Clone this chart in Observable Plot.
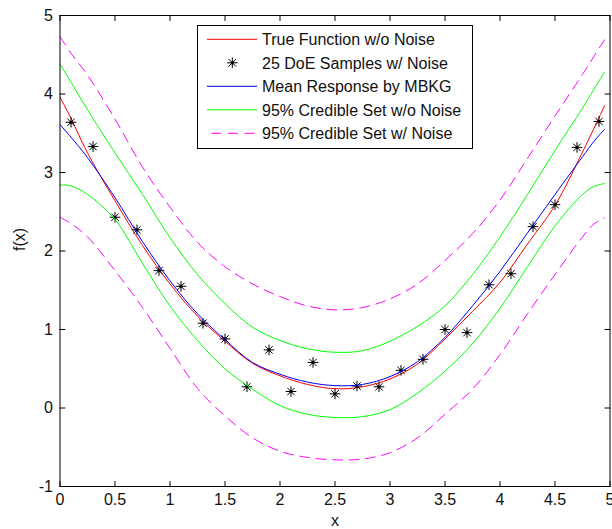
<!DOCTYPE html>
<html>
<head>
<meta charset="utf-8">
<script src="https://cdn.jsdelivr.net/npm/d3@7"></script>
<script src="https://cdn.jsdelivr.net/npm/@observablehq/plot@0.6"></script>
<style>
  html, body { margin: 0; padding: 0; background: #ffffff; }
  #chart svg { display: block; }
</style>
</head>
<body>
<div id="chart"></div>
<script>
// ---- Data ----
const curveX       = [0, 0.1, 0.25, 0.5, 0.75, 1.0, 1.25, 1.5, 1.75, 2.0, 2.25, 2.5, 2.75, 3.0, 3.25, 3.5, 3.75, 4.0, 4.25, 4.5, 4.75, 4.85, 4.95];
const trueFunction = [3.96, 3.69, 3.25, 2.64, 2.07, 1.58, 1.17, 0.85, 0.57, 0.41, 0.30, 0.245, 0.27, 0.37, 0.56, 0.88, 1.23, 1.60, 2.09, 2.58, 3.26, 3.55, 3.85];
const meanResponse = [3.61, 3.45, 3.19, 2.68, 2.12, 1.62, 1.20, 0.87, 0.58, 0.43, 0.33, 0.285, 0.30, 0.40, 0.59, 0.90, 1.30, 1.74, 2.23, 2.72, 3.20, 3.39, 3.55];
const credUpperNoNoise = [4.38, 4.15, 3.80, 3.25, 2.72, 2.17, 1.70, 1.33, 1.03, 0.86, 0.755, 0.71, 0.73, 0.85, 1.04, 1.30, 1.70, 2.18, 2.72, 3.28, 3.82, 4.05, 4.28];
const credLowerNoNoise = [2.84, 2.83, 2.72, 2.40, 1.84, 1.30, 0.86, 0.50, 0.24, 0.03, -0.08, -0.12, -0.11, -0.02, 0.19, 0.47, 0.82, 1.27, 1.80, 2.32, 2.72, 2.82, 2.86];
const credUpperNoise   = [4.73, 4.52, 4.24, 3.68, 3.07, 2.56, 2.11, 1.80, 1.58, 1.42, 1.30, 1.25, 1.28, 1.39, 1.58, 1.88, 2.22, 2.65, 3.18, 3.72, 4.25, 4.47, 4.69];
const credLowerNoise   = [2.43, 2.35, 2.18, 1.75, 1.28, 0.76, 0.25, -0.10, -0.38, -0.55, -0.63, -0.66, -0.65, -0.57, -0.38, -0.08, 0.24, 0.68, 1.20, 1.70, 2.18, 2.34, 2.42];

const sampleX = [0.1, 0.3, 0.5, 0.7, 0.9, 1.1, 1.3, 1.5, 1.7, 1.9, 2.1, 2.3, 2.5, 2.7, 2.9, 3.1, 3.3, 3.5, 3.7, 3.9, 4.1, 4.3, 4.5, 4.7, 4.9];
const sampleY = [3.64, 3.33, 2.43, 2.27, 1.75, 1.55, 1.08, 0.88, 0.27, 0.74, 0.21, 0.58, 0.18, 0.28, 0.27, 0.48, 0.62, 1.00, 0.96, 1.57, 1.71, 2.31, 2.59, 3.32, 3.65];

const xTicks = [0, 0.5, 1, 1.5, 2, 2.5, 3, 3.5, 4, 4.5, 5];
const yTicks = [-1, 0, 1, 2, 3, 4, 5];
const xTickLabels = ["0", "0.5", "1", "1.5", "2", "2.5", "3", "3.5", "4", "4.5", "5"];
const yTickLabels = ["-1", "0", "1", "2", "3", "4", "5"];
const xAxisLabel = "x";
const yAxisLabel = "f(x)";
const legendLabels = [
  "True Function w/o Noise",
  "25 DoE Samples w/ Noise",
  "Mean Response by MBKG",
  "95% Credible Set w/o Noise",
  "95% Credible Set w/ Noise"
];

// ---- Styles ----
const C = { red: "#ff0000", blue: "#0000ff", green: "#00ff00", magenta: "#ff00ff" };
const FONT = "'Liberation Sans', Arial, Helvetica, sans-serif";
const DASH = "10,6.5";
const TICK_LEN = 5;

const rows = curveX.map((x, i) => ({
  x, t: trueFunction[i], m: meanResponse[i],
  gu: credUpperNoNoise[i], gl: credLowerNoNoise[i],
  mu: credUpperNoise[i], ml: credLowerNoise[i]
}));
const samples = sampleX.map((x, i) => ({ x, y: sampleY[i] }));

// MATLAB-like '*' marker: plus + shorter diagonals
const starSymbol = {
  draw(ctx, size) {
    const r = Math.sqrt(size / Math.PI);
    const d = r * 0.7;
    ctx.moveTo(-r, 0); ctx.lineTo(r, 0);
    ctx.moveTo(0, -r); ctx.lineTo(0, r);
    ctx.moveTo(-d, -d); ctx.lineTo(d, d);
    ctx.moveTo(-d, d); ctx.lineTo(d, -d);
  }
};
// straight tick shape for vector marks (inward ticks)
const tickShape = { draw(ctx, l) { ctx.moveTo(0, 0); ctx.lineTo(0, -l); } };

const xFmt = d => xTickLabels[xTicks.indexOf(d)];
const yFmt = d => yTickLabels[yTicks.indexOf(d)];

const lineOpts = { x: "x", strokeWidth: 1, curve: "catmull-rom" };
const tickOpts = { length: TICK_LEN, anchor: "start", shape: tickShape, stroke: "#000", strokeWidth: 1 };

const chart = Plot.plot({
  width: 612,
  height: 529,
  marginLeft: 59.5,
  marginRight: 2.5,
  marginTop: 15,
  marginBottom: 43,
  style: { fontFamily: FONT, fontSize: "16px", color: "#111", background: "#fff" },
  x: { domain: [0, 5] },
  y: { domain: [-1, 5] },
  marks: [
    Plot.line(rows, { ...lineOpts, y: "t", stroke: C.red }),
    Plot.dot(samples, { x: "x", y: "y", symbol: starSymbol, r: 5.3, stroke: "#000", strokeWidth: 1, fill: "none" }),
    Plot.dot(samples, { x: "x", y: "y", r: 1.6, fill: "#000", stroke: "none" }),
    Plot.line(rows, { ...lineOpts, y: "m", stroke: C.blue }),
    Plot.line(rows, { ...lineOpts, y: "gu", stroke: C.green }),
    Plot.line(rows, { ...lineOpts, y: "gl", stroke: C.green }),
    Plot.line(rows, { ...lineOpts, y: "mu", stroke: C.magenta, strokeDasharray: DASH }),
    Plot.line(rows, { ...lineOpts, y: "ml", stroke: C.magenta, strokeDasharray: DASH }),
    // inward tick marks on all four sides
    Plot.vector(xTicks, { ...tickOpts, x: d => d, frameAnchor: "bottom", rotate: 0 }),
    Plot.vector(xTicks, { ...tickOpts, x: d => d, frameAnchor: "top", rotate: 180 }),
    Plot.vector(yTicks, { ...tickOpts, y: d => d, frameAnchor: "left", rotate: 90 }),
    Plot.vector(yTicks, { ...tickOpts, y: d => d, frameAnchor: "right", rotate: -90 }),
    Plot.frame({ stroke: "#000", strokeWidth: 1 }),
    Plot.axisX({ anchor: "bottom", ticks: xTicks, tickSize: 0, tickPadding: 7, tickFormat: xFmt, label: null, fontSize: 16 }),
    Plot.axisY({ anchor: "left", ticks: yTicks, tickSize: 0, tickPadding: 7, tickFormat: yFmt, label: null, fontSize: 16 }),
    Plot.text([xAxisLabel], { frameAnchor: "bottom", dy: 34, text: d => d, fontSize: 16, fill: "#111", lineAnchor: "middle" }),
    Plot.text([yAxisLabel], { frameAnchor: "left", dx: -40, rotate: -90, text: d => d, fontSize: 16, fill: "#111", lineAnchor: "middle" })
  ]
});

document.getElementById("chart").appendChild(chart);

// ---- Legend (MATLAB style box inside the axes) ----
const svg = d3.select(chart);
const lg = svg.append("g")
  .attr("font-family", FONT).attr("font-size", 16).attr("fill", "#111")
  .attr("text-anchor", "start");
lg.append("rect")
  .attr("x", 197.5).attr("y", 25.5).attr("width", 275).attr("height", 123)
  .attr("fill", "#fff").attr("stroke", "#000").attr("stroke-width", 1);
const legendStyles = [
  { kind: "line", stroke: C.red },
  { kind: "star" },
  { kind: "line", stroke: C.blue },
  { kind: "line", stroke: C.green },
  { kind: "line", stroke: C.magenta, dash: DASH }
];
legendLabels.forEach((label, i) => {
  const cy = 39.3 + i * 23.5;
  const st = legendStyles[i];
  if (st.kind === "line") {
    const x1 = st.dash ? 211.5 : 207;
    lg.append("line").attr("x1", x1).attr("x2", 257).attr("y1", cy).attr("y2", cy)
      .attr("stroke", st.stroke).attr("stroke-width", 1)
      .attr("stroke-dasharray", st.dash || null);
  } else {
    const p = d3.path();
    starSymbol.draw(p, Math.PI * 5.3 * 5.3);
    lg.append("path").attr("d", p.toString()).attr("transform", `translate(232.3,${cy})`)
      .attr("stroke", "#000").attr("fill", "none").attr("stroke-width", 1);
    lg.append("circle").attr("cx", 232.3).attr("cy", cy).attr("r", 1.6).attr("fill", "#000");
  }
  lg.append("text").attr("x", 262).attr("y", cy + 6).attr("text-anchor", "start").text(label);
});
</script>
</body>
</html>
